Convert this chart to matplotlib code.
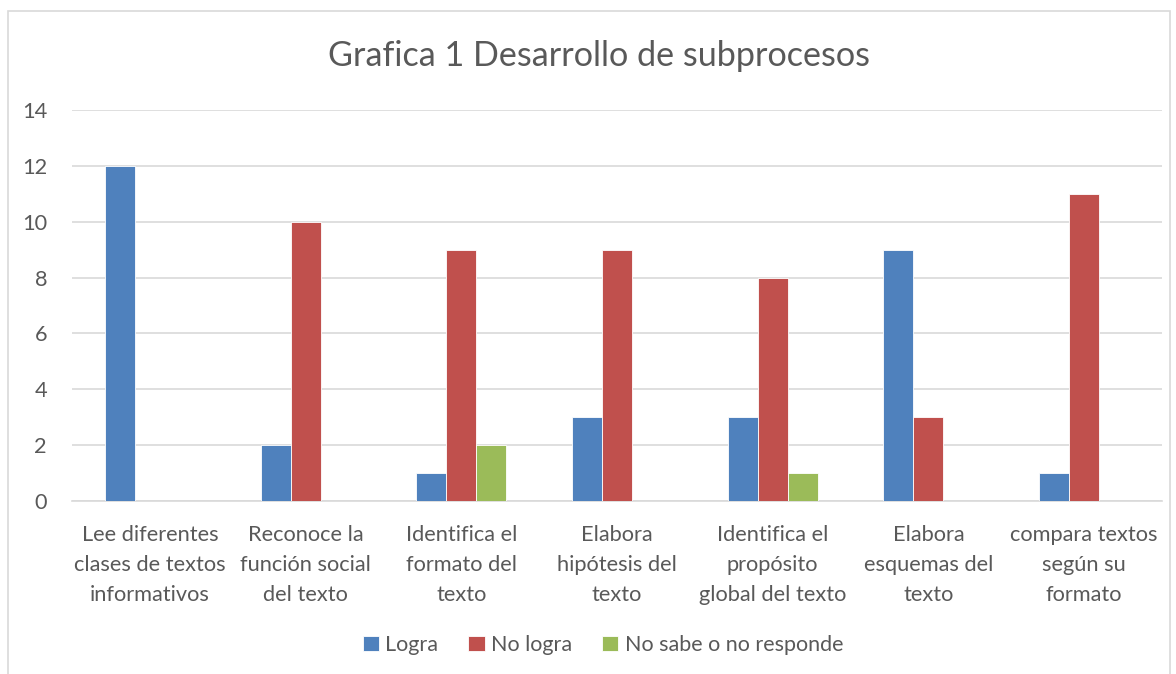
import matplotlib
matplotlib.use("Agg")
import matplotlib.pyplot as plt
from matplotlib.patches import Rectangle
import numpy as np

categories = ["Lee diferentes\nclases de textos\ninformativos",
              "Reconoce la\nfunción social\ndel texto",
              "Identifica el\nformato del\ntexto",
              "Elabora\nhipótesis del\ntexto",
              "Identifica el\npropósito\nglobal del texto",
              "Elabora\nesquemas del\ntexto",
              "compara textos\nsegún su\nformato"]
logra = [12, 2, 1, 3, 3, 9, 1]
no_logra = [0, 10, 9, 9, 8, 3, 11]
no_sabe = [0, 0, 2, 0, 1, 0, 0]
series_names = ["Logra", "No logra", "No sabe o no responde"]
yticks = [0, 2, 4, 6, 8, 10, 12, 14]

colors = ["#4F81BD", "#C0504D", "#9BBB59"]
txt = "#595959"
plt.rcParams['font.family'] = ['Lato', 'DejaVu Sans']

fig = plt.figure(figsize=(11.76, 6.74), dpi=100)
fig.patches.append(Rectangle((8/1176, -0.1), (1170-8)/1176, (674-11)/674 + 0.1,
                             transform=fig.transFigure, fill=False,
                             edgecolor="#D9D9D9", linewidth=1.2))
ax = fig.add_axes([72/1176, (674-501)/674, (1162-72)/1176, (501-110)/674])

x = np.arange(len(categories))
w = 30/155.7
for i, (vals, c, n) in enumerate(zip([logra, no_logra, no_sabe], colors, series_names)):
    ax.bar(x + (i-1)*w, vals, w, color=c, label=n, edgecolor="white", linewidth=0.6, zorder=3)

ax.set_xlim(-0.5, len(categories)-0.5)
ax.set_ylim(0, 14)
ax.set_yticks(yticks)
ax.yaxis.grid(True, color="#D9D9D9", linewidth=1.2, zorder=0)
ax.set_axisbelow(True)
for s in ["top", "right", "left"]:
    ax.spines[s].set_visible(False)
ax.spines["bottom"].set_color("#D9D9D9")
ax.spines["bottom"].set_linewidth(1.2)
ax.tick_params(axis='both', length=0, colors=txt, labelsize=15.7)
ax.tick_params(axis='y', pad=18)
ax.tick_params(axis='x', pad=17)
ax.set_xticks(x)
ax.set_xticklabels(categories, linespacing=1.63, color=txt)
for lab in ax.get_yticklabels():
    lab.set_color(txt)

fig.text(599/1176, 1-56/674, "Grafica 1 Desarrollo de subprocesos", ha="center", va="center",
         fontsize=24.6, color=txt)
leg = fig.legend(loc="center", bbox_to_anchor=(603/1176, 1-645/674), ncol=3, frameon=False,
                 fontsize=15.5, handlelength=0.75, handleheight=0.75, columnspacing=1.4,
                 handletextpad=0.3, labelcolor=txt)
fig.savefig("out.png", dpi=100)
